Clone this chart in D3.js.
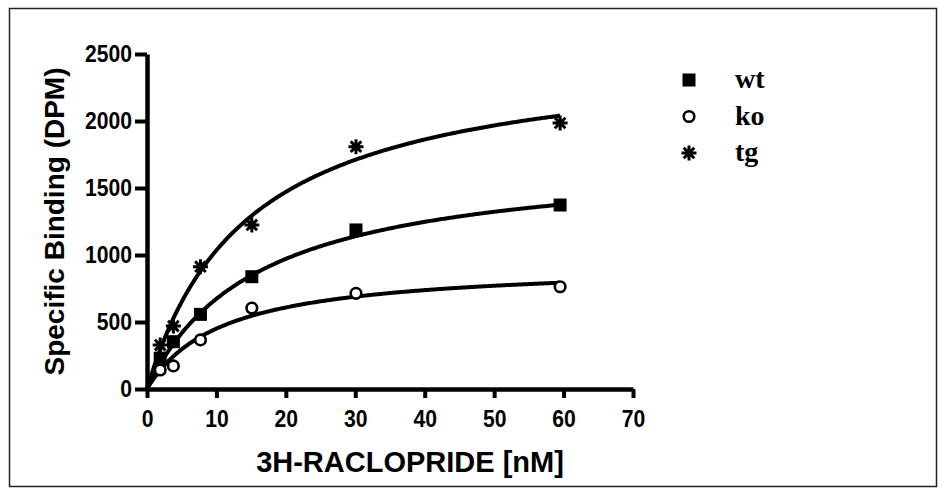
<!DOCTYPE html>
<html lang="en">
<head>
    <meta charset="UTF-8">
    <script src="https://cdn.jsdelivr.net/npm/d3@7"></script>
    <title>Specific binding</title>
    <style>
        body { margin: 0; background: #fff; }
        svg text { font-family: "Liberation Sans", Arial, sans-serif; font-weight: bold; }
    </style>
</head>
<body>
</body>
<script>

    // concentrations (nM) and measured binding (DPM)
    let conc = [1.9, 3.8, 7.7, 15.1, 30.1, 59.5];
    let wtVals = [230, 353, 557, 838, 1187, 1373];
    let koVals = [142, 172, 366, 604, 714, 763];
    let tgVals = [328, 470, 913, 1224, 1808, 1985];

    // one-site fit parameters: [Bmax, Kd]
    let wtFit = [1743, 15.9];
    let koFit = [937, 10.8];
    let tgFit = [2537, 14.5];

    let xTicks = [0, 10, 20, 30, 40, 50, 60, 70];
    let yTicks = [0, 500, 1000, 1500, 2000, 2500];
    let seriesNames = ["wt", "ko", "tg"];

    let width = 945,
        height = 494,
        x = d3.scaleLinear()
            .domain([0, 70])
            .range([147, 633]),
        y = d3.scaleLinear()
            .domain([0, 2500])
            .range([389, 54]);

    let svg = d3.select("body")
        .append("svg")
        .attr("width", width)
        .attr("height", height);

    // frame round the whole picture
    svg.append("rect")
        .attr("x", 9.5)
        .attr("y", 8.5)
        .attr("width", 927)
        .attr("height", 478)
        .attr("fill", "none")
        .attr("stroke", "#222")
        .attr("stroke-width", 1.5);

    let xAxis = svg.append("g")
        .attr("transform", "translate(0," + y(0) + ")")
        .call(d3.axisBottom(x).tickValues(xTicks).tickFormat(d3.format("d"))
            .tickSize(9).tickSizeOuter(0).tickPadding(12));

    let yAxis = svg.append("g")
        .attr("transform", "translate(" + x(0) + ",0)")
        .call(d3.axisLeft(y).tickValues(yTicks).tickFormat(d3.format("d"))
            .tickSize(12).tickSizeOuter(0).tickPadding(3));

    [xAxis, yAxis].forEach(function (g) {
        g.select(".domain").attr("stroke", "#000").attr("stroke-width", 4.5);
        g.selectAll(".tick line").attr("stroke", "#000").attr("stroke-width", 4);
        g.selectAll(".tick text")
            .attr("fill", "#000")
            .style("font-size", "24px");
    });
    // the labels are drawn in a narrow face
    xAxis.selectAll(".tick text").attr("transform", "scale(0.88,1)");
    yAxis.selectAll(".tick text")
        .attr("x", -17)
        .attr("transform", "scale(0.88,1)");

    svg.append("text")
        .attr("x", 410)
        .attr("y", 472)
        .attr("text-anchor", "middle")
        .style("font-size", "29px")
        .text("3H-RACLOPRIDE [nM]");

    svg.append("text")
        .attr("transform", "translate(64," + (y(0) + y(2500)) / 2 + ") rotate(-90)")
        .attr("text-anchor", "middle")
        .style("font-size", "28px")
        .text("Specific Binding (DPM)");

    // fitted curves
    function fitPath(fit) {
        let xs = d3.range(0, 301).map(i => i / 300 * conc[conc.length - 1]);
        return d3.line()
            .x(d => x(d))
            .y(d => y(fit[0] * d / (fit[1] + d)))(xs);
    }

    [wtFit, koFit, tgFit].forEach(function (fit) {
        svg.append("path")
            .attr("d", fitPath(fit))
            .attr("fill", "none")
            .attr("stroke", "#000")
            .attr("stroke-width", 4);
    });

    // markers
    function drawMarker(g, type, cx, cy) {
        if (type === "wt") {
            g.append("rect")
                .attr("x", cx - 6.5)
                .attr("y", cy - 6.5)
                .attr("width", 13)
                .attr("height", 13)
                .attr("fill", "#000");
        } else if (type === "ko") {
            g.append("circle")
                .attr("cx", cx)
                .attr("cy", cy)
                .attr("r", 5.3)
                .attr("fill", "#fff")
                .attr("stroke", "#000")
                .attr("stroke-width", 2.6);
        } else {
            let r = 7.5, p = "";
            [0, 45, 90, 135].forEach(function (a) {
                let dx = r * Math.cos(a * Math.PI / 180),
                    dy = r * Math.sin(a * Math.PI / 180);
                p += "M" + (cx - dx) + "," + (cy - dy) + "L" + (cx + dx) + "," + (cy + dy);
            });
            g.append("path")
                .attr("d", p)
                .attr("stroke", "#000")
                .attr("stroke-width", 3);
        }
    }

    let marks = svg.append("g");
    [wtVals, koVals, tgVals].forEach(function (vals, s) {
        vals.forEach(function (v, i) {
            drawMarker(marks, seriesNames[s], x(conc[i]), y(v));
        });
    });

    // legend
    let legend = svg.append("g");
    seriesNames.forEach(function (name, i) {
        let ly = 80 + i * 36.5;
        drawMarker(legend, name, 689, ly);
        legend.append("text")
            .attr("x", 735)
            .attr("y", ly + 8)
            .style("font-family", "'Liberation Serif', 'Times New Roman', serif")
            .style("font-size", "28px")
            .text(name);
    });

</script>
</html>
